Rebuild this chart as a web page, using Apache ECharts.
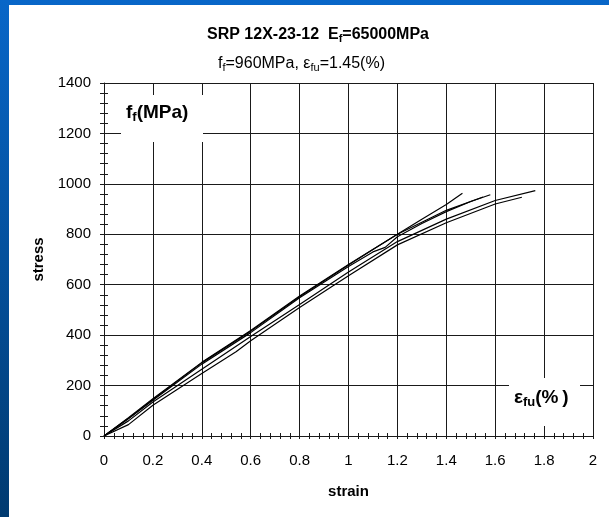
<!DOCTYPE html>
<html>
<head>
<meta charset="utf-8">
<script src="https://cdn.jsdelivr.net/npm/echarts@6/dist/echarts.min.js"></script>
<style>
body{
  margin:0;
}
.wrap{
  position:relative;
  width:609px;
  height:517px;
  background:linear-gradient(to bottom,#0866c8,#003a70);
  overflow:hidden;
}
.inner{
  position:absolute;
  left:9px;
  top:5px;
  right:0;
  bottom:0;
  background-color:#fff;
}
.chart_show{
  position:absolute;
  left:0;
  top:0;
  width:609px;
  height:517px;
}
</style>
</head>
<body>
<div class="wrap">
  <div class="inner"></div>
  <div id="chart_show" class="chart_show"></div>
</div>
<script>
// 试件 SRP 12X-23-12 的应力-应变曲线 (5 条)
var strainA = [0, 0.1, 0.2, 0.4, 0.6, 0.8, 1.0, 1.1, 1.2, 1.3, 1.4, 1.466];
var stressA = [0, 70, 145, 290, 415, 552, 678, 740, 800, 860, 918, 963];

var strainB = [0, 0.1, 0.2, 0.4, 0.6, 0.8, 1.0, 1.1, 1.15, 1.2, 1.3, 1.4, 1.5, 1.58];
var stressB = [0, 68, 142, 285, 410, 548, 672, 730, 748, 790, 843, 890, 930, 957];

var strainE = [0, 0.1, 0.2, 0.4, 0.6, 0.8, 1.0, 1.2, 1.4, 1.55];
var stressE = [0, 72, 148, 292, 418, 555, 680, 800, 895, 948];

var strainC = [0, 0.1, 0.2, 0.4, 0.6, 0.8, 1.0, 1.2, 1.4, 1.6, 1.764];
var stressC = [0, 60, 135, 265, 395, 522, 650, 771, 860, 934, 973];

var strainD = [0, 0.1, 0.2, 0.4, 0.54, 0.6, 0.8, 1.0, 1.2, 1.4, 1.6, 1.709];
var stressD = [0, 45, 122, 248, 334, 378, 510, 636, 758, 846, 920, 947];

var xTicks = [0, 2, 0.2];      // min, max, interval
var yTicks = [0, 1400, 200];

function pairs(xs, ys){
  var out = [];
  for(var i=0;i<xs.length;i++){
    out.push([xs[i], ys[i]]);
  }
  return out;
}

var curves = [
  pairs(strainA, stressA),
  pairs(strainB, stressB),
  pairs(strainE, stressE),
  pairs(strainC, stressC),
  pairs(strainD, stressD)
];

var fontName = '"Liberation Sans", Arial, sans-serif';
var lineCol = '#1a1a1a';

var aSeries = [];
for(var k=0;k<curves.length;k++){
  aSeries.push({
    type:'line',
    xAxisIndex:0,
    yAxisIndex:0,
    showSymbol:false,
    symbol:'none',
    smooth:false,
    lineStyle:{color:'#000', width:1.2},
    data:curves[k],
    z:5
  });
}

function mainX(){
  return {
    type:'value',
    min:xTicks[0], max:xTicks[1], interval:xTicks[2],
    position:'bottom',
    name:'strain',
    nameLocation:'middle',
    nameGap:48,
    nameTextStyle:{fontFamily:fontName, fontSize:15, fontWeight:'bold', color:'#000'},
    axisLine:{show:true, onZero:false, lineStyle:{color:lineCol, width:1}},
    axisTick:{show:true, inside:false, length:3, lineStyle:{color:lineCol}},
    minorTick:{show:true, splitNumber:5, length:3, lineStyle:{color:lineCol}},
    splitLine:{show:true, lineStyle:{color:lineCol, width:1}},
    axisLabel:{fontFamily:fontName, fontSize:15, color:'#000', margin:17,
      formatter:function(v){ return String(Math.round(v*10)/10); }}
  };
}
function innerX(){
  return {
    type:'value',
    min:xTicks[0], max:xTicks[1], interval:xTicks[2],
    position:'bottom',
    axisLine:{show:false, onZero:false},
    axisTick:{show:true, inside:true, length:3, lineStyle:{color:lineCol}},
    minorTick:{show:true, splitNumber:5, length:3, lineStyle:{color:lineCol}},
    splitLine:{show:false},
    axisLabel:{show:false}
  };
}
function mainY(){
  return {
    type:'value',
    min:yTicks[0], max:yTicks[1], interval:yTicks[2],
    position:'left',
    name:'stress',
    nameLocation:'middle',
    nameGap:58,
    nameRotate:90,
    nameTextStyle:{fontFamily:fontName, fontSize:15, fontWeight:'bold', color:'#000'},
    axisLine:{show:true, onZero:false, lineStyle:{color:lineCol, width:1}},
    axisTick:{show:true, inside:false, length:4, lineStyle:{color:lineCol}},
    minorTick:{show:true, splitNumber:5, length:4, lineStyle:{color:lineCol}},
    splitLine:{show:true, lineStyle:{color:lineCol, width:1}},
    axisLabel:{fontFamily:fontName, fontSize:15, color:'#000', margin:13,
      formatter:function(v){ return String(v); }}
  };
}
function innerY(){
  return {
    type:'value',
    min:yTicks[0], max:yTicks[1], interval:yTicks[2],
    position:'left',
    axisLine:{show:false, onZero:false},
    axisTick:{show:true, inside:true, length:4, lineStyle:{color:lineCol}},
    minorTick:{show:true, splitNumber:5, length:4, lineStyle:{color:lineCol}},
    splitLine:{show:false},
    axisLabel:{show:false}
  };
}

var oChart = echarts.init(document.getElementById('chart_show'), null, {renderer:'canvas'});
var oOpt = {
  backgroundColor:'transparent',
  animation:false,
  title:[
    {
      text:'SRP 12X-23-12  E{s|f}=65000MPa',
      left:202, top:20,
      textStyle:{
        fontFamily:fontName, fontSize:16, fontWeight:'bold', color:'#000',
        rich:{s:{fontFamily:fontName, fontSize:11, fontWeight:'bold', color:'#000', padding:[8,0,0,0]}}
      }
    },
    {
      text:'f{s|f}=960MPa, ε{s|fu}=1.45(%)',
      left:213, top:49,
      textStyle:{
        fontFamily:fontName, fontSize:16, fontWeight:'normal', color:'#000',
        rich:{s:{fontFamily:fontName, fontSize:11, color:'#000', padding:[8,0,0,0]}}
      }
    }
  ],
  grid:{left:104, right:16, top:83, bottom:81, containLabel:false},
  xAxis:[mainX(), innerX()],
  yAxis:[mainY(), innerY()],
  series:aSeries,
  graphic:[
    {type:'rect', z:100, shape:{x:121, y:95, width:82, height:47}, style:{fill:'#fff'}},
    {type:'rect', z:100, shape:{x:509, y:378, width:71, height:48}, style:{fill:'#fff'}},
    {
      type:'text', z:101, left:126, top:103,
      style:{
        text:'f{s|f}(MPa)',
        font:'bold 19px ' + fontName,
        fill:'#000',
        rich:{s:{fontFamily:fontName, fontSize:13, fontWeight:'bold', fill:'#000', padding:[9,0,0,0]}}
      }
    },
    {
      type:'text', z:101, left:514, top:388,
      style:{
        text:'ε{s|fu}(%\u2009)',
        font:'bold 19px ' + fontName,
        fill:'#000',
        rich:{s:{fontFamily:fontName, fontSize:13, fontWeight:'bold', fill:'#000', padding:[9,0,0,0]}}
      }
    }
  ]
};
oChart.setOption(oOpt);
</script>
</body>
</html>
